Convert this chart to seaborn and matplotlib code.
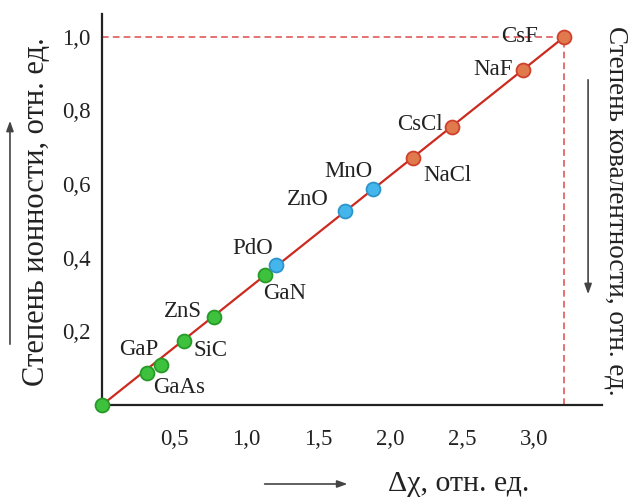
import numpy as np
import pandas as pd
import matplotlib
matplotlib.use("Agg")
import matplotlib.pyplot as plt
import seaborn as sns

# data
compounds = ['', 'GaAs', 'GaP', 'SiC', 'ZnS', 'GaN', 'PdO', 'ZnO', 'MnO', 'NaCl', 'CsCl', 'NaF', 'CsF']
delta_chi = [0.0, 0.31, 0.41, 0.57, 0.78, 1.13, 1.21, 1.69, 1.88, 2.16, 2.43, 2.92, 3.21]
ionicity = [0.0, 0.087, 0.11, 0.174, 0.24, 0.353, 0.38, 0.527, 0.587, 0.67, 0.755, 0.91, 1.0]
groups = ['g', 'g', 'g', 'g', 'g', 'g', 'b', 'b', 'b', 'o', 'o', 'o', 'o']

x_ticks = [0.5, 1.0, 1.5, 2.0, 2.5, 3.0]
y_ticks = [0.1, 0.2, 0.3, 0.4, 0.5, 0.6, 0.7, 0.8, 0.9, 1.0]

df = pd.DataFrame({'name': compounds, 'dx': delta_chi, 'ion': ionicity, 'grp': groups})

sns.set_theme(style="white")
plt.rcParams['font.family'] = ['Liberation Serif', 'DejaVu Serif']

fig = plt.figure(figsize=(6.31, 5.0), dpi=100)
ax = fig.add_axes([0.1617, 0.19, 0.792, 0.782])

fill = {'g': '#3ec23e', 'b': '#45b6ec', 'o': '#e07a4c'}
edge = {'g': '#279a27', 'b': '#2c94cc', 'o': '#d0402c'}

# reference dashed lines at the CsF point
x_end, y_end = df['dx'].iloc[-1], df['ion'].iloc[-1]
ax.plot([0, x_end], [y_end, y_end], ls=(0, (4, 2.5)), color='#e05a5a', lw=1.2, zorder=1)
ax.plot([x_end, x_end], [0, y_end], ls=(0, (4, 2.5)), color='#e05a5a', lw=1.2, zorder=1)

# straight trend line from origin to CsF
ax.plot([df['dx'].iloc[0], x_end], [df['ion'].iloc[0], y_end], color='#cc2a1e', lw=1.6, zorder=2)

for g in ['g', 'b', 'o']:
    sub = df[df['grp'] == g]
    sns.scatterplot(data=sub, x='dx', y='ion', ax=ax, s=100, color=fill[g],
                    edgecolor=edge[g], linewidth=1.3, zorder=3, clip_on=False, legend=False)

# label placement (pixel offsets, alignment)
offsets = {
    'GaAs': (6, -15, 'left'), 'GaP': (-22, 15, 'center'), 'SiC': (9, -10, 'left'),
    'ZnS': (-12, 5, 'right'), 'GaN': (20, -18, 'center'), 'PdO': (-24, 17, 'center'),
    'ZnO': (-38, 11, 'center'), 'MnO': (-24, 17, 'center'), 'NaCl': (10, -17, 'left'),
    'CsCl': (-9, 3, 'right'), 'NaF': (-10, 0, 'right'), 'CsF': (-26, 0, 'right'),
}
for _, r in df.iterrows():
    if r['name'] in offsets:
        dx, dy, ha = offsets[r['name']]
        ax.annotate(r['name'], (r['dx'], r['ion']), xytext=(dx, dy), textcoords='offset pixels',
                    ha=ha, va='center', fontsize=16.5, color='#222222', zorder=4)

ax.set_xlim(0, 3.47)
ax.set_ylim(0, 1.062)
ax.set_xticks(x_ticks)
ax.set_xticklabels([f"{v:.1f}".replace('.', ',') for v in x_ticks])
ax.set_yticks(y_ticks)
ax.set_yticklabels([f"{v:.1f}".replace('.', ',') if round(v * 10) % 2 == 0 else '' for v in y_ticks])
ax.tick_params(axis='both', direction='in', length=9.5, width=1.4, colors='#222222', labelsize=16.5)
ax.tick_params(axis='x', pad=17)
ax.tick_params(axis='y', pad=8)
for s in ['top', 'right']:
    ax.spines[s].set_visible(False)
for s in ['left', 'bottom']:
    ax.spines[s].set_color('#222222')
    ax.spines[s].set_linewidth(1.6)
ax.set_xlabel('')
ax.set_ylabel('')

# axis titles and arrows
fig.text(0.0586, 0.576, 'Степень ионности, отн. ед.', rotation=90, ha='center', va='center',
         fontsize=22, color='#222222')
fig.text(0.976, 0.578, 'Степень ковалентности, отн. ед.', rotation=-90, ha='center', va='center',
         fontsize=19.5, color='#222222')
fig.text(0.727, 0.032, 'Δχ, отн. ед.', ha='center', va='center', fontsize=21.5, color='#222222')

arrow = dict(arrowstyle='-|>,head_length=0.5,head_width=0.18', color='#444444', lw=1.2)
ax.annotate('', xy=(0.0158, 0.764), xytext=(0.0158, 0.306), xycoords='figure fraction',
            textcoords='figure fraction', arrowprops=arrow, annotation_clip=False)
ax.annotate('', xy=(0.932, 0.406), xytext=(0.932, 0.846), xycoords='figure fraction',
            textcoords='figure fraction', arrowprops=arrow, annotation_clip=False)
ax.annotate('', xy=(0.555, 0.032), xytext=(0.415, 0.032), xycoords='figure fraction',
            textcoords='figure fraction', arrowprops=arrow, annotation_clip=False)

fig.savefig('out.png', dpi=100)
